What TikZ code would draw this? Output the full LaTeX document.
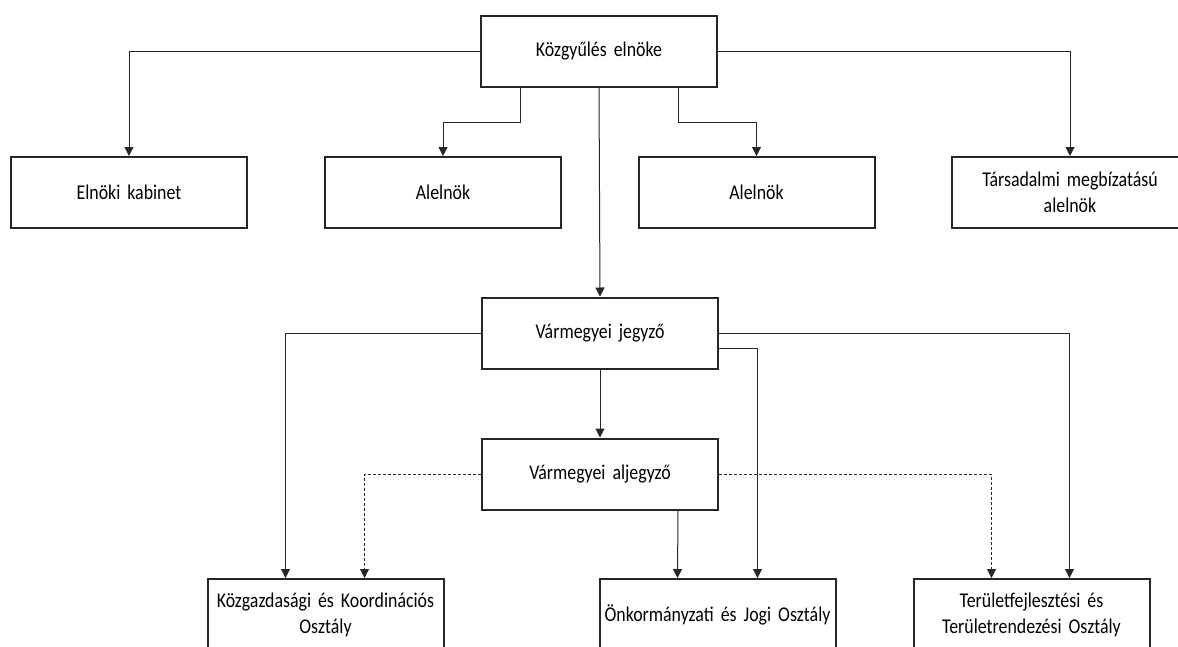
\documentclass[tikz,border=0pt]{standalone}
\usepackage{fontspec}
\setmainfont{Carlito}[FakeStretch=0.85]
\usetikzlibrary{arrows.meta}
\newcommand\orgfont{\fontsize{21}{26}\selectfont\spaceskip=4.5pt plus 1pt minus 1pt\relax}
\tikzset{
  org box/.style={
    draw=black!85,
    line width=2pt,
    minimum width=236pt,
    minimum height=71pt,
    text width=232pt,
    inner xsep=1pt,
    align=center,
    font=\orgfont,
  },
  link/.style={
    draw=black!85,
    line width=1pt,
    -{Triangle[length=9pt,width=9pt]},
  },
  dashed link/.style={
    link,
    dash pattern=on 3pt off 2pt,
  }
}

\begin{document}
\begin{tikzpicture}[x=1pt,y=-1pt]
        \useasboundingbox (0,0) rectangle (1178,646);

        \node [org box] (elnok) at (599,51.5) {Közgyűlés elnöke};
        \node [org box] (kabinet) at (129,192.5) {Elnöki kabinet};
        \node [org box] (alelnok1) at (443,192.5) {Alelnök};
        \node [org box] (alelnok2) at (756.5,192.5) {Alelnök};
        \node [org box] (tars) at (1070,192.5) {Társadalmi megbízatású\\alelnök};

        \node [org box] (jegyzo) at (600,333) {Vármegyei jegyző};
        \node [org box] (aljegyzo) at (600,474) {Vármegyei aljegyző};

        \node [org box, minimum height=72pt] (kozgazd) at (325.5,615)
          {Közgazdasági és Koordinációs\\Osztály};
        \node [org box, minimum height=72pt] (onkorm) at (717.5,615)
          {Önkormányzati és Jogi Osztály};
        \node [org box, minimum height=72pt] (terulet) at (1031.5,615)
          {Területfejlesztési és\\Területrendezési Osztály};

        % elnok
        \draw [link] (elnok.west) -| (kabinet.north);
        \draw [link] ([xshift=-79pt]elnok.south) -- ++(0,34) -| (alelnok1.north);
        \draw [link] ([xshift=79pt]elnok.south) -- ++(0,34) -| (alelnok2.north);
        \draw [link] (elnok.east) -| (tars.north);
        \draw [link] (elnok.south) -- (jegyzo.north);

        % jegyzo
        \draw [link] (jegyzo.west) -| ([xshift=-40pt]kozgazd.north);
        \draw [link] (jegyzo.east) -| ([xshift=38pt]terulet.north);
        \draw [link] ([yshift=-15pt]jegyzo.east) -| ([xshift=40pt]onkorm.north);
        \draw [link] (jegyzo.south) -- (aljegyzo.north);

        % aljegyzo
        \draw [dashed link] (aljegyzo.west) -| ([xshift=39pt]kozgazd.north);
        \draw [dashed link] (aljegyzo.east) -| ([xshift=-40pt]terulet.north);
        \draw [link] ([xshift=78pt]aljegyzo.south) -- ([xshift=-40pt]onkorm.north);
      \end{tikzpicture}
\end{document}
